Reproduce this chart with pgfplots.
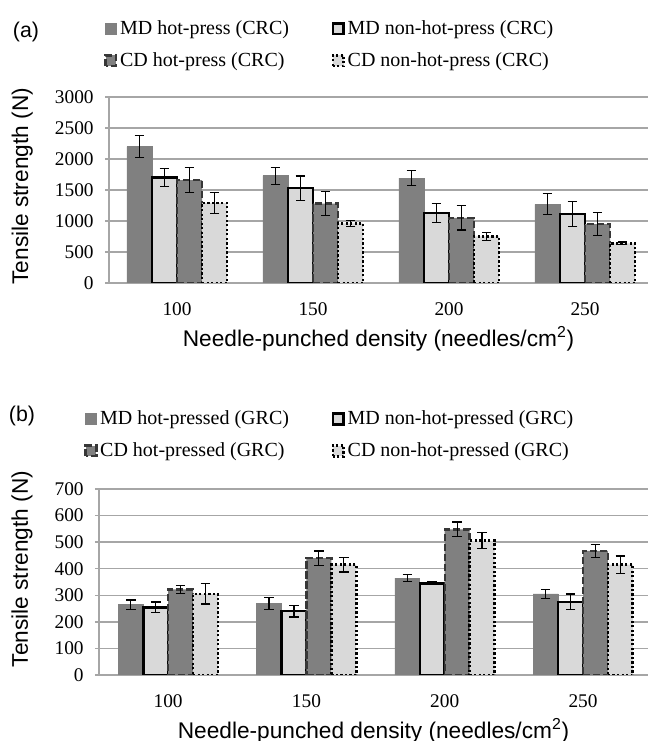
\documentclass[border=0pt]{standalone}
\usepackage{fontspec}
\setmainfont{Liberation Serif}
\newfontfamily\arial{Liberation Sans}
\usepackage{pgfplots}
\pgfplotsset{compat=1.18}

\definecolor{dg}{RGB}{128,128,128}
\definecolor{lg}{RGB}{217,217,217}
\definecolor{gridc}{RGB}{166,166,166}
\definecolor{dashc}{RGB}{55,55,55}

\pgfplotsset{
 mybars/.style={
  scale only axis,
  ybar=0pt,
  xmin=-0.5,
  ymin=0,
  xtick={0,1,2,3},
  xticklabels={100,150,200,250},
  x tick style={draw=none},
  ymajorgrids,
  grid style={gridc, line width=1pt},
  axis lines*=left,
  axis line style={gridc, line width=1pt, -},
  y tick style={gridc, line width=1pt},
  tick align=outside,
  major tick length=3pt,
  /pgf/number format/assume math mode=true,
  /pgf/number format/1000 sep={},
  scaled y ticks=false,
  tick label style={font=\fontsize{14.5}{16}\selectfont},
  yticklabel style={xshift=-5pt},
  xticklabel style={yshift=-8.5pt},
  label style={font=\arial\fontsize{17}{20}\selectfont},
  xlabel style={at={(axis description cs:0.5,-0.30)}, anchor=center},
  legend columns=2,
  legend cell align=left,
  legend image code/.code={\draw[##1,/tikz/.cd,yshift=-4pt] (0pt,0pt) rectangle (8pt,8pt);},
  legend style={draw=none, fill=none, inner sep=0pt,
    font=\fontsize{15}{18}\selectfont,
    row sep=8pt,
    /tikz/every even column/.append style={column sep=30pt}},
  error bars/y dir=both,
  error bars/y explicit,
  error bars/error bar style={black, line width=0.9pt, solid},
  error bars/error mark options={rotate=90, black, line width=0.9pt, mark size=3.6pt, solid},
 },
 sA/.style={fill=dg, draw=dg, line width=0.5pt},
 sB/.style={fill=lg, draw=black, line width=1.9pt},
 sC/.style={fill=dg, draw=dashc, line width=1.8pt, dash pattern=on 5.5pt off 2pt},
 sD/.style={fill=lg, draw=black, line width=2pt, dash pattern=on 1.7pt off 1.7pt},
}

\begin{document}
\begin{tikzpicture}
\useasboundingbox (0,0) rectangle (486pt,555.75pt);

\node[font=\arial\fontsize{16}{18}\selectfont] at (19.5pt,531.75pt) {(a)};
\node[font=\arial\fontsize{16}{18}\selectfont] at (16.5pt,243.75pt) {(b)};

% ---------------- (a)
\begin{axis}[mybars,
  at={(81.75pt,343.5pt)}, anchor=south west,
  width=404.25pt, height=139.5pt,
  xmax=3.463, ymax=3000, ytick={0,500,...,3000},
  bar width=0.184,
  xlabel={Needle-punched density (needles/cm\textsuperscript{2})},
  ylabel={Tensile strength (N)},
  ylabel style={at={(axis description cs:-0.161,0.52)}, anchor=center},
  legend style={at={(axis description cs:-0.009,1.425)}, anchor=north west},
]
\addplot[sA] coordinates {(0,2200) +- (0,180) (1,1730) +- (0,135) (2,1690) +- (0,120) (3,1270) +- (0,170)};
\addplot[sB] coordinates {(0,1700) +- (0,150) (1,1530) +- (0,195) (2,1130) +- (0,150) (3,1110) +- (0,200)};
\addplot[sC] coordinates {(0,1660) +- (0,200) (1,1280) +- (0,195) (2,1050) +- (0,195) (3,950) +- (0,185)};
\addplot[sD] coordinates {(0,1290) +- (0,170) (1,960) +- (0,45) (2,750) +- (0,70) (3,640) +- (0,20)};
\legend{MD hot-press (CRC), MD non-hot-press (CRC), CD hot-press (CRC), CD non-hot-press (CRC)}
\end{axis}

% ---------------- (b)
\begin{axis}[mybars,
  at={(74.25pt,49.5pt)}, anchor=south west,
  width=411.75pt, height=139.5pt,
  xmax=3.47, ymax=700, ytick={0,100,...,700},
  bar width=0.18,
  xlabel={Needle-punched density (needles/cm\textsuperscript{2})},
  ylabel={Tensile strength (N)},
  ylabel style={at={(axis description cs:-0.140,0.57)}, anchor=center},
  legend style={at={(axis description cs:-0.027,1.435)}, anchor=north west},
]
\addplot[sA] coordinates {(0,265) +- (0,17) (1,270) +- (0,22) (2,365) +- (0,14) (3,305) +- (0,17)};
\addplot[sB] coordinates {(0,255) +- (0,20) (1,240) +- (0,22) (2,345) +- (0,5) (3,275) +- (0,30)};
\addplot[sC] coordinates {(0,322) +- (0,16) (1,440) +- (0,27) (2,548) +- (0,28) (3,467) +- (0,25)};
\addplot[sD] coordinates {(0,305) +- (0,38) (1,415) +- (0,27) (2,505) +- (0,30) (3,415) +- (0,33)};
\legend{MD hot-pressed (GRC), MD non-hot-pressed (GRC), CD hot-pressed (GRC), CD non-hot-pressed (GRC)}
\end{axis}
\end{tikzpicture}
\end{document}
